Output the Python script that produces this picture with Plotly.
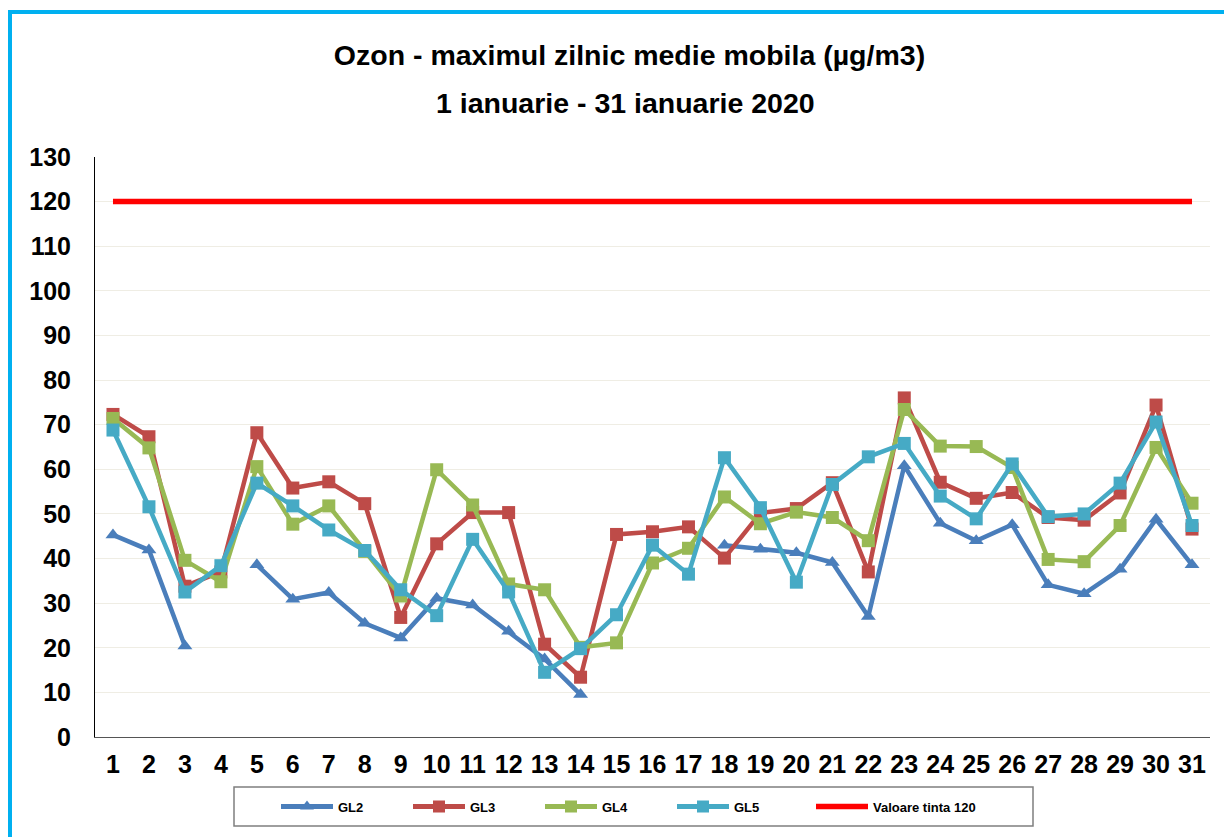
import plotly.graph_objects as go

days = list(range(1, 32))
gl2 = [45.3, 41.9, 20.4, None, 38.6, 30.9, 32.4, 25.5, 22.2, 31.1,
       29.6, 23.7, 17.5, 9.5, None, None, None, 43.0, 42.1, 41.3,
       39.1, 27.0, 60.8, 47.9, 44.0, 47.6, 34.1, 32.1, 37.6, 48.8, 38.6]
gl3 = [72.3, 67.3, 33.8, 37.0, 68.2, 55.8, 57.2, 52.3, 26.8, 43.3,
       50.3, 50.3, 20.8, 13.4, 45.4, 46.0, 47.1, 40.1, 50.2, 51.2,
       57.0, 37.0, 76.0, 57.1, 53.5, 54.8, 49.2, 48.6, 54.7, 74.4, 46.6]
gl4 = [71.4, 64.8, 39.6, 34.8, 60.6, 47.7, 51.8, 41.6, 31.6, 59.9,
       52.0, 34.3, 33.0, 20.1, 21.1, 39.0, 42.3, 53.8, 47.8, 50.4,
       49.2, 44.0, 73.4, 65.2, 65.1, 60.4, 39.8, 39.3, 47.4, 64.9, 52.4]
gl5 = [68.8, 51.6, 32.5, 38.4, 56.9, 51.8, 46.4, 41.8, 33.0, 27.2,
       44.3, 32.5, 14.5, 19.8, 27.4, 43.0, 36.5, 62.6, 51.4, 34.7,
       56.6, 62.8, 65.8, 54.0, 48.9, 61.2, 49.4, 50.0, 56.9, 70.6, 47.4]
target = [120] * 31

series = [
    ("GL2", gl2, "#4a7ebb", "triangle-up"),
    ("GL3", gl3, "#be4b48", "square"),
    ("GL4", gl4, "#98b954", "square"),
    ("GL5", gl5, "#46aac5", "square"),
]

FONT = "Liberation Sans, Arial, sans-serif"

fig = go.Figure()
for name, vals, col, sym in series:
    fig.add_trace(go.Scatter(
        x=days, y=vals, name=f"<b>{name}</b>", mode="lines+markers",
        line=dict(color=col, width=4.5),
        marker=dict(symbol=sym, size=13, color=col),
        connectgaps=False, legend="legend",
    ))
fig.add_trace(go.Scatter(
    x=days, y=target, name="<b>Valoare tinta 120</b>", mode="lines",
    line=dict(color="#ff0000", width=5.5), legend="legend2",
))

# page has an 8px body margin: figure coords = screen - 8
W, H = 1224, 829
L, R, T, B = 87, 22, 149, 100
pw, ph = W - L - R, H - T - B


def px(xs):
    return (xs - 8 - L) / pw


def py(ys):
    return (H - B - (ys - 8)) / ph


fig.update_layout(
    width=W, height=H,
    margin=dict(l=L, r=R, t=T, b=B),
    paper_bgcolor="white", plot_bgcolor="white",
    font=dict(family=FONT, color="black"),
    title=dict(
        text="<b>Ozon - maximul zilnic medie mobila (µg/m3)</b>",
        x=(629.5 - 8) / W, xanchor="center", y=1 - (55 - 8) / H, yanchor="middle",
        font=dict(size=28.5, family=FONT),
    ),
    xaxis=dict(
        range=[0.5, 31.5], tickmode="array", tickvals=days,
        ticktext=[f"<b>{d}</b>" for d in days],
        tickfont=dict(size=25), showgrid=False, zeroline=False,
        showline=True, linecolor="#555555", linewidth=1, ticks="",
        ticklabelstandoff=5,
    ),
    yaxis=dict(
        range=[0, 130], dtick=10, tickmode="linear",
        tickfont=dict(size=25), showgrid=True, gridcolor="#efede4",
        gridwidth=1, zeroline=False, showline=True, linecolor="black",
        linewidth=1, ticks="", tickprefix="<b>", ticksuffix="</b>",
        ticklabelstandoff=18,
    ),
    legend=dict(
        orientation="h", x=px(276), xanchor="left",
        y=py(806.5), yanchor="middle",
        borderwidth=0, bgcolor="rgba(0,0,0,0)",
        font=dict(size=13), entrywidth=65, itemwidth=52,
        itemsizing="constant",
    ),
    legend2=dict(
        orientation="h", x=px(811), xanchor="left",
        y=py(806.5), yanchor="middle",
        borderwidth=0, bgcolor="rgba(0,0,0,0)",
        font=dict(size=13), itemwidth=52,
    ),
    showlegend=True,
    annotations=[dict(
        text="<b>1 ianuarie - 31 ianuarie 2020</b>",
        xref="paper", yref="paper", x=px(625.5), y=py(103),
        xanchor="center", yanchor="middle", showarrow=False,
        font=dict(size=28.5, family=FONT),
    )],
)

# legend frame
fig.add_shape(type="rect", xref="paper", yref="paper",
              x0=px(234), x1=px(1033), y0=py(826), y1=py(787),
              line=dict(color="#7f7f7f", width=1.5), fillcolor="rgba(0,0,0,0)")

# cyan outer border
fig.add_shape(type="rect", xref="paper", yref="paper",
              x0=px(10), x1=px(1300), y0=py(900), y1=py(12),
              line=dict(color="#00b0f0", width=4), fillcolor="rgba(0,0,0,0)",
              layer="below")

fig.write_html("out.html")
